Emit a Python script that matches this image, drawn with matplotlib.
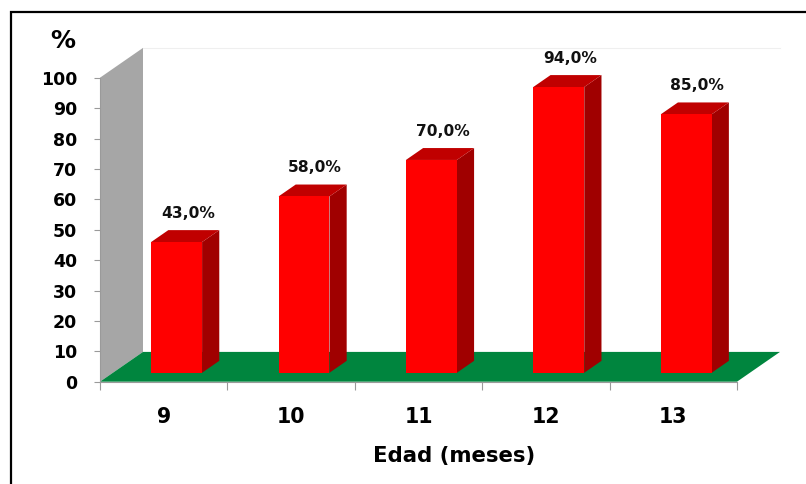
import matplotlib.pyplot as plt
from matplotlib.patches import Polygon, Rectangle

# datos
edad = ['9', '10', '11', '12', '13']
porcentaje = [43.0, 58.0, 70.0, 94.0, 85.0]
etiquetas = ['43,0%', '58,0%', '70,0%', '94,0%', '85,0%']
yticks = [0, 10, 20, 30, 40, 50, 60, 70, 80, 90, 100]

# pseudo 3D: desplazamiento de la profundidad (en unidades de datos)
DX = 0.3375
DY = 9.8
D0, D1 = 0.3, 0.7      # profundidad de las barras
ANCHO = 0.4

W, H = 806, 484


def proy(x, y, d):
    return (x + d * DX, y + d * DY)


fig = plt.figure(figsize=(W / 100, H / 100), dpi=100)
fig.patch.set_facecolor('white')
ax = fig.add_axes([100 / W, (H - 381.7) / H, 637 / W, 304 / H])
ax.set_xlim(0, len(edad))
ax.set_ylim(0, 100)
ax.patch.set_visible(False)

# pared lateral gris y suelo verde
pared = [proy(0, 0, 0), proy(0, 100, 0), proy(0, 100, 1), proy(0, 0, 1)]
ax.add_patch(Polygon(pared, closed=True, fc='#A6A6A6', ec='none', clip_on=False, zorder=1))
n = len(edad)
suelo = [proy(0, 0, 0), proy(n, 0, 0), proy(n, 0, 1), proy(0, 0, 1)]
ax.add_patch(Polygon(suelo, closed=True, fc='#00853E', ec='none', clip_on=False, zorder=1))
x0, y0 = proy(0, 100, 1)
x1, _ = proy(n, 100, 1)
ax.plot([x0, x1], [y0, y0], color='#EFEFEF', lw=0.8, clip_on=False, zorder=0)

# barras
for i, v in enumerate(porcentaje):
    xa = i + 0.5 - ANCHO / 2
    xb = i + 0.5 + ANCHO / 2
    frente = [proy(xa, 0, D0), proy(xb, 0, D0), proy(xb, v, D0), proy(xa, v, D0)]
    lado = [proy(xb, 0, D0), proy(xb, 0, D1), proy(xb, v, D1), proy(xb, v, D0)]
    techo = [proy(xa, v, D0), proy(xb, v, D0), proy(xb, v, D1), proy(xa, v, D1)]
    ax.add_patch(Polygon(lado, closed=True, fc='#A00000', ec='none', clip_on=False, zorder=3))
    ax.add_patch(Polygon(techo, closed=True, fc='#C00000', ec='none', clip_on=False, zorder=3))
    ax.add_patch(Polygon(frente, closed=True, fc='#FF0000', ec='none', clip_on=False, zorder=4))
    lx, ly = proy(i + 0.52, v + 5.6, D1 - 0.2)
    ax.text(lx, v + D1 * DY + 5.6, etiquetas[i], ha='center', va='center',
            fontsize=11.2, fontweight='bold', color='#111111', zorder=5)

# ejes
for s in ['top', 'right']:
    ax.spines[s].set_visible(False)
ax.spines['left'].set_color('#9A9A9A')
ax.spines['bottom'].set_color('#9A9A9A')
ax.spines['left'].set_linewidth(0.8)
ax.spines['bottom'].set_linewidth(0.8)
ax.spines['left'].set_zorder(2)
ax.spines['bottom'].set_zorder(2)

ax.set_yticks(yticks)
ax.tick_params(axis='y', length=4.3, width=0.8, color='#9A9A9A', pad=12,
               labelsize=12.5)
for t in ax.get_yticklabels():
    t.set_fontweight('bold')

ax.set_xticks(range(n + 1))
ax.set_xticklabels([])
ax.set_xticks([i + 0.5 for i in range(n)], minor=True)
ax.set_xticklabels(edad, minor=True, fontsize=14.8, fontweight='bold')
ax.tick_params(axis='x', which='major', length=5.8, width=0.8, color='#9A9A9A')
ax.tick_params(axis='x', which='minor', length=0, pad=18.2)

fig.text(63 / W, (H - 48) / H, '%', ha='center', va='baseline',
         fontsize=18, fontweight='bold')
fig.text(454 / W, (H - 461.7) / H, 'Edad (meses)', ha='center', va='baseline',
         fontsize=15.3, fontweight='bold')

# marco
fig.add_artist(Rectangle((11 / W, -0.2), 1.2, (H - 12) / H + 0.2, fill=False,
                         ec='black', lw=1.6, transform=fig.transFigure, clip_on=False))

fig.savefig('out.png', dpi=100)
